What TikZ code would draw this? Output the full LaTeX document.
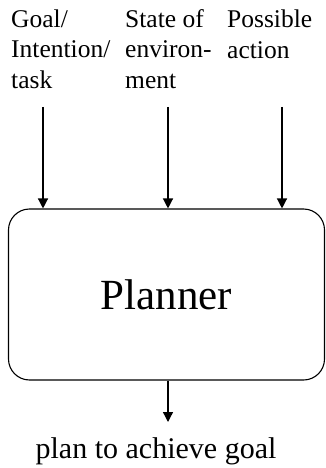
\documentclass[tikz,border=0pt]{standalone}
\usepackage{fontspec}
\setmainfont{Liberation Serif}
\usetikzlibrary{arrows.meta}
\begin{document}
\begin{tikzpicture}[x=1pt,y=-1pt,
  toplabel/.style={anchor=base west, align=left, inner sep=0pt,
    font=\fontsize{25.5}{30.5}\selectfont},
  planbox/.style={draw, line width=1.1pt, rounded corners=21pt,
    minimum width=316pt, minimum height=171pt, inner sep=0pt,
    font=\fontsize{43}{50}\selectfont},
  flow/.style={line width=1.3pt, -{Triangle[width=10pt,length=10pt]}}]
  \useasboundingbox (0,0) rectangle (326,468);

  % input labels (anchored at the baseline of their last line)
  \node[toplabel] (goal) at (11,88.5) {Goal/\\Intention/\\task};
  \node[toplabel] (state) at (125,88.5) {State of\\environ-\\ment};
  \node[toplabel] (act) at (227,58.3) {Possible\\action};

  % central block
  \node[planbox] (planner) at (166.5,294.5) {Planner};

  % output label
  \node[anchor=base, inner sep=0pt, font=\fontsize{30}{36}\selectfont]
    (out) at (156,458) {plan to achieve goal};

  % arrow start points
  \coordinate (g0) at (43,107);
  \coordinate (s0) at (168,107);
  \coordinate (a0) at (282,107);
  \coordinate (o1) at (168,422);

  \draw[flow] (g0) -- (g0 |- planner.north);
  \draw[flow] (s0) -- (s0 |- planner.north);
  \draw[flow] (a0) -- (a0 |- planner.north);
  \draw[flow] (planner.south -| o1) -- (o1);
\end{tikzpicture}
\end{document}
